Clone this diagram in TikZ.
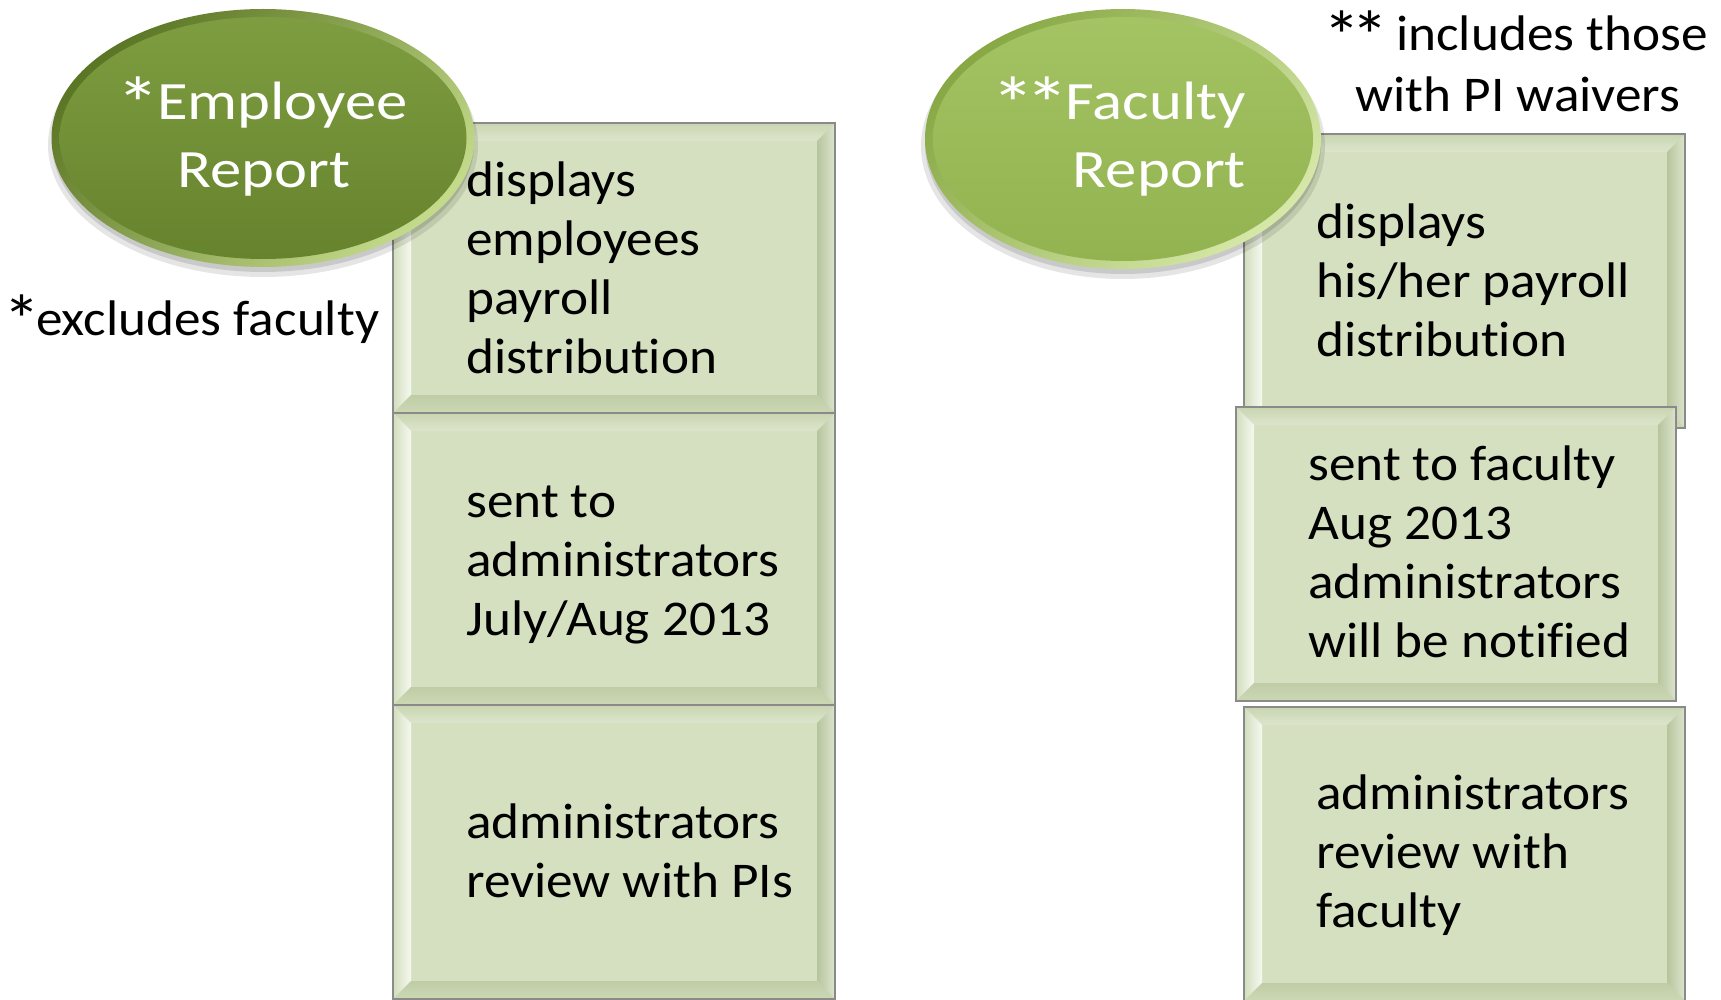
\documentclass[tikz,border=0pt]{standalone}
\usepackage{fontspec}
\setmainfont{Carlito}[Ligatures=NoCommon]
\newfontfamily\boxfont[FakeStretch=1.065,Ligatures=NoCommon]{Carlito}
\newfontfamily\ovalfont[FakeStretch=1.16,Ligatures=NoCommon]{Carlito}
\usetikzlibrary{calc,shapes.geometric}

% a fuller footnote asterisk on its own advance
\newcommand\bigast[1][0.56em]{\makebox[#1]{\raisebox{-.2em}{\scalebox{1.4}{*}}}}

\definecolor{face}{HTML}{D5E0C0}
\definecolor{bevTopA}{HTML}{C9D5B1}
\definecolor{bevTopB}{HTML}{DCE5CC}
\definecolor{bevLeftA}{HTML}{D2DDBD}
\definecolor{bevLeftB}{HTML}{F6F9F0}
\definecolor{bevRightA}{HTML}{B7C59D}
\definecolor{bevRightB}{HTML}{DCE4CE}
\definecolor{bevBotA}{HTML}{BFCDA6}
\definecolor{bevBotB}{HTML}{CCD8B5}
\definecolor{boxedge}{HTML}{8A8A8A}
\definecolor{empRimA}{HTML}{5B7625}
\definecolor{empRimB}{HTML}{C3DA8A}
\definecolor{empTop}{HTML}{7E9D40}
\definecolor{empBot}{HTML}{66832D}
\definecolor{facRimA}{HTML}{88A845}
\definecolor{facRimB}{HTML}{D6E8A8}
\definecolor{facTop}{HTML}{A4C363}
\definecolor{facBot}{HTML}{92B350}

% width of the bevelled rim of a panel
\newcommand\bevw{18}
% bevelled rim and outline of a panel node
\newcommand\bevelpanel[1]{%
  \shade[top color=bevTopA, bottom color=bevTopB]
    (#1.north west) -- (#1.north east) -- ($(#1.north east)+(-\bevw,\bevw)$)
    -- ($(#1.north west)+(\bevw,\bevw)$) -- cycle;
  \shade[left color=bevLeftA, right color=bevLeftB]
    (#1.north west) -- ($(#1.north west)+(\bevw,\bevw)$)
    -- ($(#1.south west)+(\bevw,-\bevw)$) -- (#1.south west) -- cycle;
  \shade[left color=bevRightA, right color=bevRightB]
    (#1.north east) -- (#1.south east) -- ($(#1.south east)+(-\bevw,-\bevw)$)
    -- ($(#1.north east)+(-\bevw,\bevw)$) -- cycle;
  \shade[top color=bevBotA, bottom color=bevBotB]
    (#1.south west) -- (#1.south east) -- ($(#1.south east)+(-\bevw,-\bevw)$)
    -- ($(#1.south west)+(\bevw,-\bevw)$) -- cycle;
  \draw[boxedge, line width=1.2pt] (#1.north west) rectangle (#1.south east);
}

\begin{document}
\begin{tikzpicture}[x=1pt, y=-1pt,
  panel/.style={rectangle, fill=face, inner sep=0, outer sep=0, anchor=north west},
  oval/.style={ellipse, inner sep=0, outer sep=0},
  % multi-line texts are placed by the baseline of their last line
  paneltext/.style={anchor=base west, align=left, inner sep=0,
    font=\boxfont\fontsize{50}{59}\selectfont},
  notetext/.style={inner sep=0, font=\boxfont\fontsize{50}{61}\selectfont},
  ovaltext/.style={text=white, inner sep=0, font=\ovalfont\fontsize{54}{68}\selectfont}]

\fill[white] (0,0) rectangle (1721,1000);
\useasboundingbox (0,0) rectangle (1721,1000);
\clip (0,0) rectangle (1721,1000);

% ---- Employee column panels
\node[panel, minimum width=442pt, minimum height=290pt] (L1) at (393,123) {};
\bevelpanel{L1}
\node[panel, minimum width=442pt, minimum height=292pt] (L2) at (393,413) {};
\bevelpanel{L2}
\node[panel, minimum width=442pt, minimum height=294pt] (L3) at (393,705) {};
\bevelpanel{L3}

\node[paneltext] (L1t) at (466,373) {displays\\employees\\payroll\\distribution};
\node[paneltext] (L2t) at (466,635) {sent to\\administrators\\July/Aug 2013};
\node[paneltext] (L3t) at (466,897) {administrators\\review with PIs};

% ---- Faculty column panels
\node[panel, minimum width=441pt, minimum height=294pt] (R1) at (1244,134) {};
\bevelpanel{R1}
\node[panel, minimum width=441pt, minimum height=294pt] (R3) at (1244,707) {};
\bevelpanel{R3}
\node[panel, minimum width=440pt, minimum height=294pt] (R2) at (1236,407) {};
\bevelpanel{R2}

\node[paneltext] (R1t) at (1316,356) {displays\\his/her payroll\\distribution};
\node[paneltext] (R2t) at (1308,657) {sent to faculty\\Aug 2013\\administrators\\will be notified};
\node[paneltext] (R3t) at (1316,927) {administrators\\review with\\faculty};

% ---- report ovals with soft shadows
\fill[black, opacity=.10] (263,145) ellipse [x radius=215, y radius=132];
\fill[black, opacity=.12] (263,143) ellipse [x radius=211, y radius=129];
\node[oval, minimum width=423pt, minimum height=258pt,
      top color=empRimA, bottom color=empRimB, shading angle=45] (empring) at (263,138) {};
\node[oval, minimum width=407pt, minimum height=242pt,
      top color=empTop, bottom color=empBot] (emp) at (empring.center) {};
\node[ovaltext, anchor=base, align=center] (empt) at (264,188) {\bigast[0.68em]Employee\\Report};

\fill[black, opacity=.10] (1123,146) ellipse [x radius=202, y radius=133];
\fill[black, opacity=.12] (1123,144) ellipse [x radius=198, y radius=130];
\node[oval, minimum width=396pt, minimum height=260pt,
      top color=facRimA, bottom color=facRimB, shading angle=45] (facring) at (1123,139) {};
\node[oval, minimum width=380pt, minimum height=244pt,
      top color=facTop, bottom color=facBot] (fac) at (facring.center) {};
\node[ovaltext, anchor=base east, align=right] (fact) at (1246,188)
  {\bigast[0.62em]\bigast[0.66em]Faculty\\Report\hspace{6pt}};

% ---- footnotes
\node[notetext, anchor=base west] (empnote) at (8,335) {\bigast excludes faculty};
\node[notetext, anchor=base, align=center] (facnote) at (1518,112) {\bigast\bigast{} includes those\\with PI waivers};
\end{tikzpicture}
\end{document}
